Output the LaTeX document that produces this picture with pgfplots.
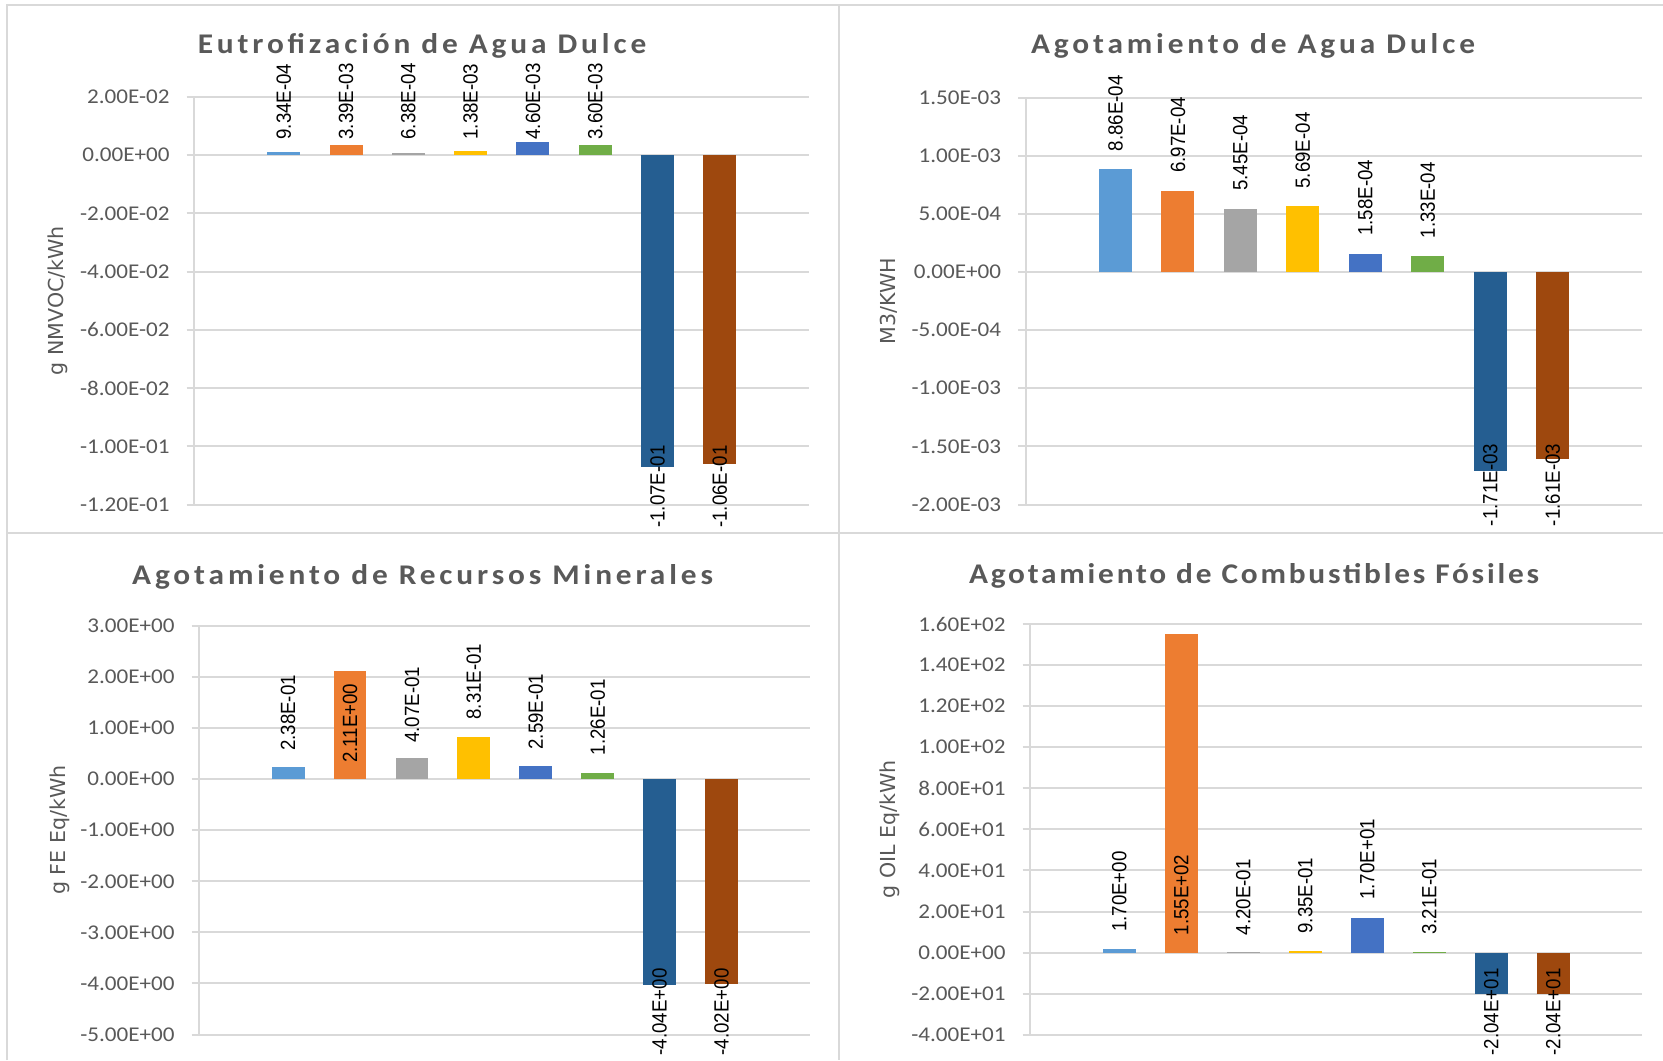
\documentclass[border=0pt]{standalone}
\usepackage{fontspec}
\usepackage{pgfplots}
\pgfplotsset{compat=1.18}
\setmainfont{Carlito}
\newfontfamily\tickfont[FakeStretch=1.1]{Carlito}
\newfontfamily\titlefont[FakeStretch=1.1,LetterSpace=13.6]{Carlito}
\newfontfamily\titlefontb[FakeStretch=1.1,LetterSpace=9.8]{Carlito}
\newfontfamily\lblfont{Liberation Sans}
\newfontfamily\ylabfont{DejaVu Sans}
\definecolor{gridgray}{HTML}{D9D9D9}
\definecolor{txtgray}{HTML}{595959}
\definecolor{c1}{HTML}{5B9BD5}
\definecolor{c2}{HTML}{ED7D31}
\definecolor{c3}{HTML}{A5A5A5}
\definecolor{c4}{HTML}{FFC000}
\definecolor{c5}{HTML}{4472C4}
\definecolor{c6}{HTML}{70AD47}
\definecolor{c7}{HTML}{255E91}
\definecolor{c8}{HTML}{9E480E}
\pgfplotsset{
  lcastyle/.style={
    ybar, scale only axis, anchor=north west, enlargelimits=false, clip=false,
    xmin=-0.44, xmax=9.43,
    axis y line*=left, axis x line=none,
    y axis line style={-, draw=gridgray, line width=1pt},
    ymajorgrids, major grid style={draw=gridgray, line width=1pt},
    tick align=outside, major tick length=3.75pt,
    ytick style={draw=gridgray, line width=1pt},
    scaled y ticks=false,
    yticklabel style={font=\tickfont\fontsize{10.5}{12}\selectfont, text=txtgray, inner sep=0pt, anchor=east, xshift=-8.25pt},
    every node near coord/.append style={font=\lblfont\fontsize{9.35}{11}\selectfont, text=black, inner sep=0pt},
    every axis y label/.style={at={(axis description cs:0,0.5)}, rotate=90, anchor=center, font=\ylabfont\fontsize{10.3}{12}\selectfont, text=txtgray},
  }
}
\newcommand{\onebar}[4]{%
  \addplot[bar shift=0pt, bar width=0.53, fill=#1, draw=none,
    nodes near coords={#3},
    nodes near coords style={yshift=#4, xscale=1.1, rotate=90, anchor=west}]
    coordinates {(#2)};
}
\begin{document}
\begin{tikzpicture}
\begin{scope}[x=0.5pt, y=-0.5pt]
  \useasboundingbox (0,0) rectangle (1663,1060);
  \fill[white] (0,0) rectangle (1663,1060);
  \draw[gridgray, line width=1pt] (7,1060) -- (7,5) -- (1663,5);
  \draw[gridgray, line width=1pt] (839,5) -- (839,1060);
  \draw[gridgray, line width=1pt] (7,533) -- (1663,533);
  \coordinate (a1) at (194,97);
  \coordinate (a2) at (1025.5,97.5);
  \coordinate (a3) at (199,626);
  \coordinate (a4) at (1030,624);
  \begin{scope}[font=\titlefont\bfseries\fontsize{14.25}{16}\selectfont, text=txtgray]
    \node[anchor=base] at (422,54) {Eutrofización de Agua Dulce};
    \node[anchor=base] at (1253,54) {Agotamiento de Agua Dulce};
    \node[anchor=base] at (422.6,584) {Agotamiento de Recursos Minerales};
  \end{scope}
  \node[anchor=base, font=\titlefontb\bfseries\fontsize{14.25}{16}\selectfont, text=txtgray] at (1254,583.5) {Agotamiento de Combustibles Fósiles};
\end{scope}

% Panel 1
\begin{axis}[lcastyle, at={(a1)}, width=307.5pt, height=203.75pt,
  ymin=-0.12, ymax=0.02,
  ytick={-0.12,-0.10,-0.08,-0.06,-0.04,-0.02,0,0.02},
  yticklabels={-1.20E-01,-1.00E-01,-8.00E-02,-6.00E-02,-4.00E-02,-2.00E-02,0.00E+00,2.00E-02},
  ylabel={g NMVOC/kWh}, ylabel style={yshift=68.25pt}]
\onebar{c1}{1,9.34e-4}{9.34E-04}{6.3pt}
\onebar{c2}{2,3.39e-3}{3.39E-03}{2.75pt}
\onebar{c3}{3,6.38e-4}{6.38E-04}{6.75pt}
\onebar{c4}{4,1.38e-3}{1.38E-03}{5.65pt}
\onebar{c5}{5,4.60e-3}{4.60E-03}{1.0pt}
\onebar{c6}{6,3.60e-3}{3.60E-03}{2.45pt}
\onebar{c7}{7,-0.107}{-1.07E-01}{-30.7pt}
\onebar{c8}{8,-0.106}{-1.06E-01}{-32.15pt}
\end{axis}

% Panel 2
\begin{axis}[lcastyle, at={(a2)}, width=308.25pt, height=203.5pt,
  ymin=-0.002, ymax=0.0015,
  ytick={-0.002,-0.0015,-0.001,-0.0005,0,0.0005,0.001,0.0015},
  yticklabels={-2.00E-03,-1.50E-03,-1.00E-03,-5.00E-04,0.00E+00,5.00E-04,1.00E-03,1.50E-03},
  ylabel={M3/KWH}, ylabel style={yshift=68.25pt}]
\onebar{c1}{1,8.86e-4}{8.86E-04}{8.65pt}
\onebar{c2}{2,6.97e-4}{6.97E-04}{8.8pt}
\onebar{c3}{3,5.45e-4}{5.45E-04}{8.65pt}
\onebar{c4}{4,5.69e-4}{5.69E-04}{8.45pt}
\onebar{c5}{5,1.58e-4}{1.58E-04}{8.75pt}
\onebar{c6}{6,1.33e-4}{1.33E-04}{8.85pt}
\onebar{c7}{7,-1.71e-3}{-1.71E-03}{-27.85pt}
\onebar{c8}{8,-1.61e-3}{-1.61E-03}{-33.65pt}
\end{axis}

% Panel 3
\begin{axis}[lcastyle, at={(a3)}, width=305.5pt, height=204.25pt,
  ymin=-5, ymax=3,
  ytick={-5,-4,-3,-2,-1,0,1,2,3},
  yticklabels={-5.00E+00,-4.00E+00,-3.00E+00,-2.00E+00,-1.00E+00,0.00E+00,1.00E+00,2.00E+00,3.00E+00},
  ylabel={g FE Eq/kWh}, ylabel style={yshift=69.5pt}]
\onebar{c1}{1,0.238}{2.38E-01}{7.85pt}
\onebar{c2}{2,2.11}{2.11E+00}{-45.95pt}
\onebar{c3}{3,0.407}{4.07E-01}{7.7pt}
\onebar{c4}{4,0.831}{8.31E-01}{8.4pt}
\onebar{c5}{5,0.259}{2.59E-01}{8.0pt}
\onebar{c6}{6,0.126}{1.26E-01}{8.5pt}
\onebar{c7}{7,-4.04}{-4.04E+00}{-35.1pt}
\onebar{c8}{8,-4.02}{-4.02E+00}{-35.6pt}
\end{axis}

% Panel 4
\begin{axis}[lcastyle, at={(a4)}, width=306pt, height=205.35pt,
  ymin=-40, ymax=160,
  ytick={-40,-20,0,20,40,60,80,100,120,140,160},
  yticklabels={-4.00E+01,-2.00E+01,0.00E+00,2.00E+01,4.00E+01,6.00E+01,8.00E+01,1.00E+02,1.20E+02,1.40E+02,1.60E+02},
  ylabel={g OIL Eq/kWh}, ylabel style={yshift=70pt}]
\onebar{c1}{1,1.70}{1.70E+00}{8.4pt}
\onebar{c2}{2,155}{1.55E+02}{-150.75pt}
\onebar{c3}{3,0.420}{4.20E-01}{8.0pt}
\onebar{c4}{4,0.935}{9.35E-01}{8.35pt}
\onebar{c5}{5,17.0}{1.70E+01}{8.75pt}
\onebar{c6}{6,0.321}{3.21E-01}{8.45pt}
\onebar{c7}{7,-20.4}{-2.04E+01}{-30.6pt}
\onebar{c8}{8,-20.4}{-2.04E+01}{-30.6pt}
\end{axis}
\end{tikzpicture}
\end{document}
